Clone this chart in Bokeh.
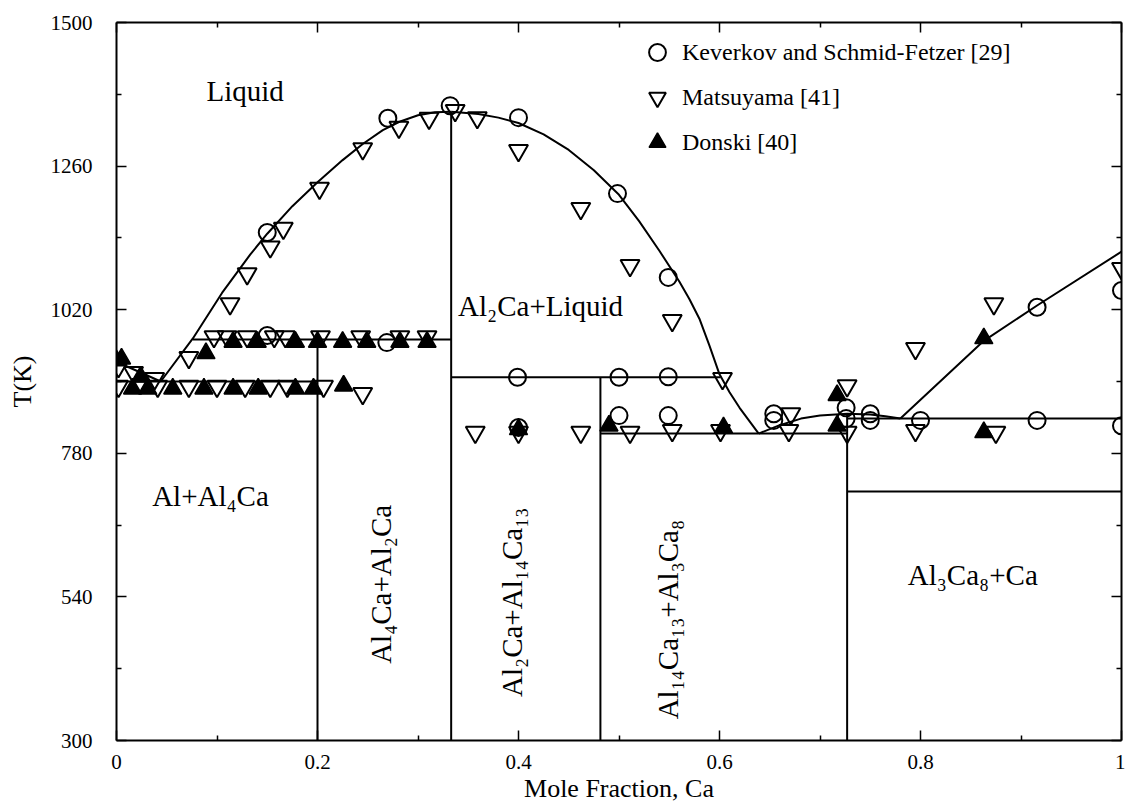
from bokeh.plotting import figure
from bokeh.models import (FixedTicker, LinearAxis, Range1d, Label, Legend, LegendItem,
                          CustomJSTickFormatter)
from bokeh.embed import file_html
from bokeh.resources import INLINE

FONT = "Liberation Serif"

# ---------------- axis ticks ----------------
x_ticks = [0.0, 0.2, 0.4, 0.6, 0.8, 1.0]
x_tick_labels = ["0", "0.2", "0.4", "0.6", "0.8", "1"]
x_minor = [0.1, 0.3, 0.5, 0.7, 0.9]
y_ticks = [300, 540, 780, 1020, 1260, 1500]
y_tick_labels = ["300", "540", "780", "1020", "1260", "1500"]
y_minor = [420, 660, 900, 1140, 1380]

# ---------------- calculated phase boundaries ----------------
liq_al_c = [0.0, 0.044]
liq_al_T = [933, 900]
liq_al2ca_left_c = [0.044, 0.076, 0.105, 0.133, 0.150, 0.175, 0.200, 0.225, 0.245,
                    0.265, 0.283, 0.300, 0.317, 0.333]
liq_al2ca_left_T = [900, 972, 1048, 1112, 1147, 1193, 1233, 1270, 1297,
                    1320, 1335, 1345, 1350, 1351]
liq_al2ca_right_c = [0.333, 0.360, 0.380, 0.400, 0.425, 0.450, 0.475, 0.500, 0.520,
                     0.540, 0.560, 0.570, 0.580, 0.590, 0.600, 0.610, 0.620, 0.639]
liq_al2ca_right_T = [1351, 1347, 1341, 1332, 1313, 1287, 1253, 1212, 1168,
                     1119, 1067, 1038, 1005, 960, 912, 882, 856, 813]
liq_al3ca8_c = [0.639, 0.660, 0.681, 0.700, 0.727, 0.750, 0.765, 0.780]
liq_al3ca8_T = [813, 827, 838, 843, 846, 845, 842, 838]
liq_ca_c = [0.780, 0.863, 0.916, 1.0]
liq_ca_T = [838, 968, 1027, 1117]

# isotherms
iso_c0 = [0.0, 0.076, 0.333, 0.4815, 0.727, 0.727]
iso_c1 = [0.2, 0.333, 0.601, 0.727, 1.0, 1.0]
iso_T = [900, 970, 907, 813, 838, 716]

# compound lines (vertical)
vert_c = [0.2, 0.333, 0.4815, 0.727]
vert_T0 = [300, 300, 300, 300]
vert_T1 = [970, 1351, 907, 846]

# ---------------- experimental data ----------------
kev_c = [0.150, 0.150, 0.269, 0.270, 0.332, 0.400, 0.4985, 0.549, 0.399, 0.500, 0.549,
         0.400, 0.500, 0.549, 0.654, 0.654, 0.726, 0.726, 0.750, 0.750, 0.800, 0.916,
         0.916, 1.0, 1.0]
kev_T = [1149, 977, 965, 1340, 1361, 1341, 1214, 1074, 907, 907, 908,
         823, 843, 843, 846, 835, 856, 838, 846, 835, 835, 1024,
         835, 1052, 826]

mat_c = [0.002, 0.017, 0.038,
         0.072, 0.113, 0.130, 0.153, 0.166, 0.202, 0.245, 0.281, 0.311, 0.337, 0.359,
         0.400, 0.462, 0.511, 0.553, 0.603,
         0.097, 0.110, 0.130, 0.157, 0.168, 0.203, 0.243, 0.282, 0.309,
         0.002, 0.041, 0.072, 0.100, 0.128, 0.153, 0.170, 0.206, 0.245,
         0.357, 0.400, 0.462, 0.511, 0.553, 0.601, 0.669, 0.727, 0.795, 0.875,
         0.671, 0.727, 0.795, 0.873, 1.0]
mat_T = [925, 915, 905,
         940, 1030, 1080, 1125, 1156, 1223, 1289, 1325, 1340, 1353, 1341,
         1286, 1189, 1094, 1002, 905,
         975, 975, 975, 975, 975, 975, 975, 975, 975,
         892, 892, 892, 892, 892, 892, 892, 892, 880,
         815, 815, 815, 815, 818, 818, 818, 815, 818, 815,
         846, 893, 955, 1030, 1089]

don_c = [0.0, 0.005, 0.024, 0.089,
         0.116, 0.140, 0.178, 0.200, 0.225, 0.249, 0.282, 0.309,
         0.016, 0.031, 0.056, 0.087, 0.116, 0.141, 0.178, 0.196, 0.226,
         0.400, 0.490, 0.604, 0.717, 0.717, 0.863, 0.863]
don_T = [935, 938, 908, 947,
         966, 966, 966, 966, 966, 966, 966, 966,
         888, 888, 888, 888, 888, 888, 888, 888, 893,
         820, 826, 823, 877, 826, 972, 815]

series_names = ["Keverkov and Schmid-Fetzer [29]", "Matsuyama [41]", "Donski [40]"]

# ---------------- figure ----------------
p = figure(width=1125, height=809, x_range=Range1d(0, 1), y_range=Range1d(300, 1500),
           output_backend="svg", toolbar_location=None,
           min_border_left=116, min_border_right=4, min_border_top=22, min_border_bottom=69)
p.grid.visible = False
p.outline_line_color = None
p.background_fill_color = "white"
p.border_fill_color = "white"


def style_axis(ax, ticks, minor, labels=True):
    ax.ticker = FixedTicker(ticks=ticks, minor_ticks=minor)
    ax.axis_line_color = "black"
    ax.axis_line_width = 2
    ax.major_tick_in = 10
    ax.major_tick_out = 0
    ax.minor_tick_in = 5
    ax.minor_tick_out = 0
    ax.major_tick_line_width = 1.5
    ax.minor_tick_line_width = 1.5
    ax.major_tick_line_color = "black"
    ax.minor_tick_line_color = "black"
    if not labels:
        ax.formatter = CustomJSTickFormatter(code="return ''")
        ax.major_label_standoff = 0


xa = p.xaxis[0]
style_axis(xa, x_ticks, x_minor)
xa.major_label_overrides = {t: l for t, l in zip(x_ticks, x_tick_labels)}
xa.major_label_text_font = FONT
xa.major_label_text_font_size = "21px"
xa.major_label_text_color = "black"
xa.major_label_standoff = 14
xa.axis_label = "Mole Fraction, Ca"
xa.axis_label_text_font = FONT
xa.axis_label_text_font_size = "26px"
xa.axis_label_text_font_style = "normal"
xa.axis_label_text_color = "black"
xa.axis_label_standoff = 2

ya = p.yaxis[0]
style_axis(ya, y_ticks, y_minor)
ya.major_label_overrides = {t: l for t, l in zip(y_ticks, y_tick_labels)}
ya.major_label_text_font = FONT
ya.major_label_text_font_size = "21px"
ya.major_label_text_color = "black"
ya.major_label_standoff = 24
ya.axis_label = "T(K)"
ya.axis_label_text_font = FONT
ya.axis_label_text_font_size = "26px"
ya.axis_label_text_font_style = "normal"
ya.axis_label_text_color = "black"
ya.axis_label_standoff = 11

top_ax = LinearAxis()
style_axis(top_ax, x_ticks, x_minor, labels=False)
p.add_layout(top_ax, "above")
right_ax = LinearAxis()
style_axis(right_ax, y_ticks, y_minor, labels=False)
p.add_layout(right_ax, "right")

# ---------------- phase boundaries ----------------
LW = 2
for cc, tt in [(liq_al_c, liq_al_T), (liq_al2ca_left_c, liq_al2ca_left_T),
               (liq_al2ca_right_c, liq_al2ca_right_T), (liq_al3ca8_c, liq_al3ca8_T),
               (liq_ca_c, liq_ca_T)]:
    p.line(cc, tt, line_color="black", line_width=LW, line_join="round")
p.segment(x0=iso_c0, y0=iso_T, x1=iso_c1, y1=iso_T, line_color="black", line_width=LW)
p.segment(x0=vert_c, y0=vert_T0, x1=vert_c, y1=vert_T1, line_color="black", line_width=LW)

# ---------------- experimental points ----------------
r_kev = p.scatter(kev_c, kev_T, marker="circle", size=17, fill_color=None,
                  line_color="black", line_width=2)
r_mat = p.scatter(mat_c, mat_T, marker="inverted_triangle", size=19, fill_color=None,
                  line_color="black", line_width=2)
r_don = p.scatter(don_c, don_T, marker="triangle", size=18, fill_color="black",
                  line_color="black", line_width=1.5)

legend = Legend(items=[LegendItem(label=series_names[0], renderers=[r_kev]),
                       LegendItem(label=series_names[1], renderers=[r_mat]),
                       LegendItem(label=series_names[2], renderers=[r_don])],
                location=(520, 577), orientation="vertical",
                glyph_width=42, glyph_height=42, label_height=42, spacing=3,
                label_standoff=4, padding=0, margin=0,
                label_text_font=FONT, label_text_font_size="24px", label_text_color="black",
                border_line_color=None, background_fill_alpha=0)
p.add_layout(legend, "center")

# ---------------- region labels ----------------
label_style = dict(text_font=FONT, text_font_size="29px", text_color="black",
                   text_align="center", text_baseline="middle")
p.add_layout(Label(x=0.128, y=1386, text="Liquid", **label_style))
p.add_layout(Label(x=0.422, y=1027, text="Al₂Ca+Liquid", **label_style))
p.add_layout(Label(x=0.0935, y=709, text="Al+Al₄Ca", **label_style))
p.add_layout(Label(x=0.263, y=561, text="Al₄Ca+Al₂Ca", angle=90, angle_units="deg", **label_style))
p.add_layout(Label(x=0.394, y=531, text="Al₂Ca+Al₁₄Ca₁₃", angle=90, angle_units="deg", **label_style))
p.add_layout(Label(x=0.549, y=502, text="Al₁₄Ca₁₃+Al₃Ca₈", angle=90, angle_units="deg", **label_style))
p.add_layout(Label(x=0.852, y=576, text="Al₃Ca₈+Ca", **label_style))

open("out.html", "w").write(file_html(p, INLINE))
